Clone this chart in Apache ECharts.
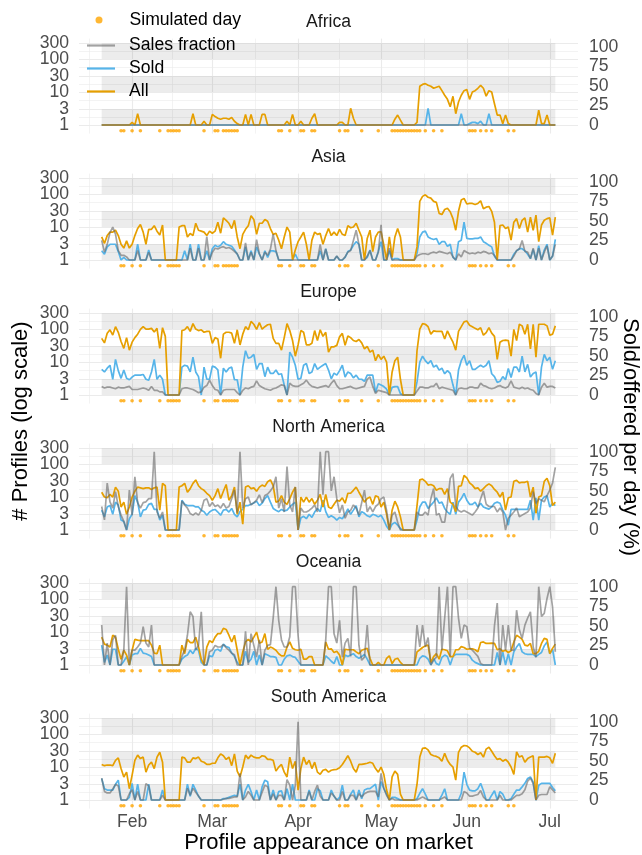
<!DOCTYPE html>
<html><head><meta charset="utf-8">
<script src="https://cdn.jsdelivr.net/npm/echarts@6/dist/echarts.min.js"></script>
<style>html,body{margin:0;padding:0;background:#fff}#c{width:642px;height:855px}</style>
</head><body><div id="c"></div>
<script>
// ---------------- data ----------------
const regions = ['Africa', 'Asia', 'Europe', 'North America', 'Oceania', 'South America'];
const firstDay = 20;            // day of year 2020 (Jan 1 = 0) -> 21 Jan 2020
const monthTicks = [31, 60, 91, 121, 152, 182];
const monthLabels = ['Feb', 'Mar', 'Apr', 'May', 'Jun', 'Jul'];
const minorDayTicks = [15.5, 45.5, 75.5, 106, 136.5, 167];
const leftTicks = [1, 3, 10, 30, 100, 300];
const leftLabelsA = [1, 10, 100];
const leftLabelsB = [3, 30, 300];
const leftMinorTicks = [1.732, 5.477, 17.32, 54.77, 173.2];
const rightTicks = [0, 25, 50, 75, 100];
const bandRanges = [[1, 3], [10, 30], [100, 300]];
const simulatedDays = [7,8,11,14,21,24,25,26,27,28,37,41,42,44,45,46,47,48,49,64,65,68,72,73,76,77,86,88,89,94,100,105,106,107,108,109,110,111,112,113,114,115,117,120,123,133,134,135,137,139,141,147,149];
const simulatedLevel = 0.67;

const africaAll = [1,1,1,1,1,1,1,1,1,1, 1,1.2,1,2.2,1,1,1,1,1,1, 1,1,1,1,1,1,1,1,1,1, 1,1,1,2.2,1,1,1,1.3,1,1,
 2.1,1.8,1.6,1.5,1.6,1.6,1.5,1.7,1.3,1.1, 1,1,2.1,1,2.1,1,1,1,2.1,2.1, 1,1,1,1,1,1,1,1.3,1,2.1, 1,1,1.3,1,1,1,1.6,2.2,1,1,
 1,1,1,1,1,1,1.2,1.2,1,1, 3.2,1.6,1,1,1,1,1,1,1,1, 1,1,1,1,1,1,1.5,2,1.4,1, 1,1,1,1,1.2,15,17,18,16,15,
 13,14,15,11,8,6,3.6,7.4,2.2,5, 8,11,12,6,10,11,13,16,13,7.5, 11,10,4.4,2,2,1.1,2,1.1,1,1, 1,1,1,1,1,1,1,1,2.8,1.1, 1.1,2,1,1,1];
const africaSold = [1,1,1,1,1,1,1,1,1,1, 1,1,1,1,1,1,1,1,1,1, 1,1,1,1,1,1,1,1,1,1, 1,1,1,1,1,1,1,1,1,1,
 1,1,1,1,1,1,1,1,1,1, 1,1,1,1,1,1,1,1,1,1, 1,1,1,1,1,1,1,1,1,1, 1,1,1,1,1,1,1,1,1,1,
 1,1,1,1,1,1,1,1,1,1, 1,1,1,1,1,1,1,1,1,1, 1,1,1,1,1,1,1,1,1,1, 1,1,1,1,1,1,1,1,3.2,1,
 1,1,1,1,1,1,1,1,1,1, 2.2,1,1,1.1,1.2,1.2,1.1,1.3,1,1, 2.2,1,1,1,1,1,1,1,1,1, 1,1,1,1,1,1,1,1,1,1, 1,1,1,1,1];
const africaFraction = [0,0,0,0,0,0,0,0,0,0, 0,0,0,0,0,0,0,0,0,0, 0,0,0,0,0,0,0,0,0,0, 0,0,0,0,0,0,0,0,0,0,
 0,0,0,0,0,0,0,0,0,0, 0,0,0,0,0,0,0,0,0,0, 0,0,0,0,0,0,0,0,0,0, 0,0,0,0,0,0,0,0,0,0,
 0,0,0,0,0,0,0,0,0,0, 0,0,0,0,0,0,0,0,0,0, 0,0,0,0,0,0,0,0,0,0, 0,0,0,0,0,0,0,0,0,0,
 0,0,0,0,0,0,0,0,0,0, 0,0,0,0,0,0,0,0,0,0, 0,0,0,0,0,0,0,0,0,0, 0,0,0,0,0,0,0,0,0,0, 0,0,0,0,0];

const asiaAll = [5,3.2,5.5,7,7,8,5.5,3,2.3,3.8, 2.3,3,5.5,9,12,7,3,8.5,8.5,11, 7.5,5.7,11.5,1,1,1,1,1,10,11, 11,5,6.4,5.5,13,8,7.5,7,5.5,7.5,
 6.5,7.5,14,6.5,19,16,13,9,16,5, 2.2,6,8.5,11,22,17,6,13,13,17, 15,9,6,6.5,4,2.2,5,10,7,1, 2,3.6,5,7,3,1,4,7,6,6.4,
 3,5.5,9,5.5,7,5.5,8.5,6,5.5,11, 9.5,10,13,8,5,1,4.5,8,1.8,5, 7,7.2,2.8,1,5,1.2,5,9,5,1, 1,1,1,1,2.5,60,85,95,80,75,
 60,56,26,24,34,37,29,18,8,30, 66,74,50,52,52,48,52,62,36,40, 42,30,14,1,11,11.5,9,10,4,14, 18,9,16,19,7,20,8,23,3.6,11.5, 16,18,19,5.7,20];
const asiaSold = [1.9,1.5,2.5,3,3,3,1.8,1,1.2,1, 1,1,1,3,1,1,1,2,1,1, 1,1,1,1,1,1,1,1,1,1, 1.9,1,3,1,1,3,1,1,1.9,1,
 2.2,2.8,2.5,2.8,3.6,3,2.8,2.6,2,1.5, 1,1,2.5,1,1.9,1,2.5,1.5,1,1.9, 1.2,1.9,1.9,1.8,1,1,1,1,1,1, 1.5,1,1,1,1,1,1,1,1,1.9,
 1,2.2,1,1,1,1.3,1,1,1.2,1.8, 2,2.8,3.6,3,1,1,1.2,2,1,1, 1.8,3.6,1,1,1.9,1,1.1,1.1,1,1, 1,1,1,1,1.6,5,7,7.5,5,4.5,
 4.2,4.5,3,3.6,3.6,2.6,3,1.2,1,3.6, 4,14,4.5,4.4,4.4,4.5,4.5,5,3.6,3.2, 2.8,2.5,1.3,1,1,1,1,1,1,1.5, 1.9,2.2,2.2,1.9,1.5,1.1,2.1,1,2.7,1, 2,3,1,1.3,4.2];
const asiaFraction = [25,10,20,35,42,33,12,6,6,4, 0,0,0,12,0,0,0,10,0,0, 0,0,0,0,0,0,0,0,0,0, 0,0,15,0,0,15,0,0,30,0,
 10,15,14,16,17,15,16,14,11,8, 0,0,22,0,10,0,26,8,0,10, 6,14,33,12,0,0,0,0,0,0, 0,0,0,0,0,0,0,0,0,20,
 0,14,0,0,0,5,0,0,4,10, 12,25,38,20,0,0,5,12,0,0, 10,45,0,0,15,0,0,0,0,0, 0,0,0,0,5,7,8,8,7,9,
 10,9,11,10,9,8,10,4,0,8, 4,12,10,8,9,8,10,9,11,10, 8,9,6,0,0,0,0,0,0,5, 12,14,25,11,10,2,15,0,15,0, 10,18,0,5,20];

const europeAll = [52,38,75,95,66,118,80,42,26,55, 23,40,55,70,98,118,100,100,105,82, 105,26,110,60,1,1,1,1,1,90, 95,118,85,146,100,90,95,80,85,85,
 37,55,50,13,70,80,80,75,37,95, 33,70,118,95,170,140,98,156,100,118, 135,140,52,37,37,23,55,146,90,45, 15,33,90,80,33,33,37,90,45,95,
 60,80,20,29,29,32,58,74,32,62, 55,45,42,48,38,25,30,20,23,11, 17,12,15,10,1,5,11,14,3,1, 1,1,1,1,22,100,146,140,118,70,
 88,85,85,85,50,88,58,40,23,85, 118,165,175,130,118,105,95,110,65,78, 110,75,60,12,40,45,46,45,15,98, 45,140,125,70,140,25,140,14,140,140, 140,125,65,70,125];
const europeSold = [6,5,6.5,8,3,12,5.5,3.2,5.7,3.2, 2.9,3.5,4,4,4,4.2,3,2.8,5,12, 3,4,3,1,1,1,1,1,1,7, 8,7.5,5,14,5,3.6,1,7,3,3,
 7.5,7,5.8,1,6.5,5,6.5,7,2.9,2.9, 1,7,22,13,14,17,6,9,9,3.6, 7,4.5,4.5,5.7,4.2,4.4,2,1,20,14, 8,3,3.2,8,9,4.5,5,9,6,7,
 8,9,5.7,3.1,4.6,4,5.5,8,3.5,5, 4.5,3.3,4,3,3,2.6,4,4,4,1.2, 2.2,2,1.8,1.5,1,1.7,1.8,1.8,1.1,1, 1,1,1,1,2.5,10,15,11,9,11,
 7,8,5.7,6.5,4.4,5.5,4.5,2,1,5.7, 11,16,8,11,6,6,7,8,7,8, 11,4.4,3.6,2.4,2.6,3.6,2.9,6.4,3.4,7, 7,5,15,5,8.5,3.5,4.5,5,1,7, 17,11,14,6,11];
const europeFraction = [11,9,10,10,9,8,10,9,9,10, 11,7,7,7,8,9,8,6,11,6, 6,4,4,0,0,0,0,0,0,8, 9,9,8,7,5,3,4,10,12,19,
 12,7,6,0,6,7,7,7,7,3, 0,6,9,8,10,11,18,12,10,8, 7,6,8,9,11,13,12,0,15,12, 11,11,13,15,19,14,11,10,9,10,
 11,12,10,15,19,12,8,8,9,10, 11,9,8,9,10,11,20,23,11,2, 6,5,4,3,0,0,0,0,0,0, 0,0,0,0,5,10,10,9,9,11,
 11,15,8,10,9,8,7,6,0,8, 9,8,8,10,10,9,9,15,12,11, 9,8,9,11,12,10,9,11,18,10, 9,8,10,8,9,7,6,2,0,10, 15,10,11,11,9];

const northAmericaAll = [14,10,9.5,12,10,20,15,5,7,3, 5,10,15,20,19,18,19,19,17,19, 20,4,26,22,1,1,1,1,20,22, 26,14,18,26,33,22,18,16,13,11,
 8,11,18,9,15,24,8,11,20,3, 7,1.5,20,22,18,19,15,20,23,21, 29,33,22,7,7.5,11,7,6,9,14, 20,1,10,7,10,7,9,6,8,12,
 5,12,5,4.5,6,8,7.5,9.5,6.5,13, 13,16,20,14,10,7,9,10,6,11, 10,5,7,3,1,4,7.5,5,2.5,1, 1,1,1,1,5.5,33,35,30,23,24,
 22,16,18,18,12,18,7,6,3.6,21, 22,45,38,27,23,18,19,15,18,22, 25,22,17,14,10,14,4,9.5,10,30, 32,27,28,28,30,10,20,3.2,10,11, 30,37,22,5.5,7];
const northAmericaSold = [4,2.5,5,5.5,3,7,5.7,2,1.8,1, 2.2,3,11,7,2.5,4,4.2,6,6.4,4.2, 4.2,2,2.8,1,1,1,1,1,1,8, 6,5.5,5.5,5.5,5,5,4,3.6,2.8,3.5,
 4,4.2,3.5,2.8,4,4.2,3.5,4.5,3,2.5, 3.6,4.3,5.5,5.5,6,6.6,7.5,5.5,6.5,9, 11,7,4.5,4,3.6,4.2,3.8,4,5,6, 7,1,2.3,2.6,2.2,3,2.4,3.5,4.5,3.6,
 8,3.6,2.4,2.7,2.4,2,2.4,2.2,3,4.4, 3,4,5.5,2.5,3.6,3.2,2.7,2.5,3,2.8, 2.5,2.8,2,1.3,1,1.5,1.7,1.4,1.1,1, 1,1,1,1,2,5,7,7,4.5,5.7,
 7,9.5,6.5,7,4.5,3.5,3,7,3,7, 9,13,8,6,6,7,5,6.5,5,4.6, 4.3,5,6.5,7,6.5,4,2.8,1.4,4.2,4.2, 4.2,4.2,4.2,4.2,4.2,8,2,9.5,2,8, 10,11,5,6.5,5.5];
const northAmericaFraction = [30,13,60,36,28,49,30,19,11,0, 51,19,68,35,28,35,36,40,40,100, 23,15,23,0,0,0,0,0,0,37, 32,28,21,19,22,19,25,38,40,30,
 35,30,32,28,34,28,30,40,51,22, 100,28,40,42,32,35,38,45,35,44, 46,50,55,68,28,40,23,81,32,23, 55,0,28,23,23,25,28,32,23,100,
 45,100,100,50,68,40,22,32,15,23, 25,32,28,19,35,51,23,30,23,30, 33,40,42,25,0,19,23,10,0,0, 0,0,0,0,23,19,19,23,19,40,
 53,19,21,10,10,34,66,72,30,25, 23,25,23,21,19,23,28,40,50,33, 30,30,30,23,28,23,0,15,19,23, 28,17,19,21,23,28,49,34,40,38, 36,44,51,60,80];

const oceaniaAll = [7,4.3,4,3.5,8,7,3,1.5,2.8,2, 1,2.8,6,5.7,5.5,5.5,5.5,5.5,4,2.3, 2.2,4,1,1,1,1,1,1,1,4, 2.2,6,4.8,4.8,7,3.6,1.5,1,3.5,5.5,
 4.8,7,9,9,13,12,8,5,8,2.8, 1,2.5,5,6,5,7,10,4.6,5,9, 3,3.5,3.2,2.8,2.2,1.9,1.9,3.5,5,3.2, 2.9,2.8,3,1.5,1.5,1.8,1.8,1,1,1,
 1,5,3,3.1,2.4,2.6,2,1,3,2.9, 2.9,2.9,2.5,2.2,2.8,3,3.2,1.6,1,1, 1.2,1,1,1.6,1.9,1.1,1.5,1.6,1.2,1, 1,1,1,1,2.5,2.9,3.4,3.8,4,1.2,
 1.8,2.2,1.5,3,2.9,2.7,1.8,1.8,2.9,2.9, 3.6,3.4,3,3.1,3.1,2.9,2.5,4.8,5,4.5, 4.5,4.6,4.5,2.9,3.1,2.6,2.8,2.4,2.7,5, 8,7,6,4,3.8,4.5,2.2,2.2,2.6,4.5, 6.4,6,2.2,3.2,4.3];
const oceaniaSold = [4,1.2,2,1,3,3,1,1,1.3,1.8, 1,2,2.2,2.2,3.2,2.3,2.2,2,1.8,1, 1,1,1,1,1,1,1,1,1,1.5, 1.8,2,2.8,2.2,3.2,2.8,1.2,1,1,1.9,
 1.8,2.8,3,2.6,4.3,3.6,3.4,2.3,1.8,1.2, 1,1,2.6,1.2,1.5,2.6,1,2,1,2.2, 2,1.8,1.8,1.7,1,1,1.5,1.9,2,1.8, 1.7,1.3,1,1,1,1,1,1,1,1,
 1,1.9,1.6,1.3,1.1,1.8,1,1,2,1.8, 2,2.2,1.8,1.6,1.8,2.1,1.5,1,1,1, 1,1,1,1,1,1,1,1,1,1, 1,1,1,1,1,1.6,1.9,1.8,1.5,1,
 1.6,1.1,1,1.7,2,1.8,1,1.8,2.1,2.1, 2.1,2.1,2.1,1.9,1.4,1.2,1.1,1,1,1, 1,1,1,2.4,1,2.5,1,2.2,1,2.5, 3.5,4.5,2.5,2.2,2.1,2.1,2.1,1.8,2.1,2.4, 3.8,5,2.2,3,1];
const oceaniaFraction = [51,0,28,0,32,38,0,0,19,100, 0,19,19,23,28,49,28,23,51,0, 0,0,0,0,0,0,0,0,0,11, 19,38,68,62,19,25,68,0,0,17,
 19,25,23,23,26,22,19,15,13,0, 0,0,43,0,40,25,10,32,0,19, 25,26,60,100,57,32,23,23,36,100, 100,38,0,0,0,0,0,0,0,0,
 0,32,100,100,40,28,57,10,28,34, 11,100,100,25,6,10,51,0,0,0, 0,0,0,0,0,0,0,0,0,0, 0,0,0,0,51,23,51,23,35,0,
 6,10,100,19,60,100,11,100,100,60, 34,51,49,22,19,15,11,2,0,0, 0,0,50,79,0,51,19,51,19,19, 70,45,34,51,60,68,23,10,100,62, 66,85,100,74,17];

const southAmericaAll = [12,11,11.5,11.5,11,16,19,9,5,7, 2.2,5.7,16,23,18,20,7,11.5,14,9, 20,28,14,1,1,1,1,1,1,20, 19,14,14,19,18,20,15,14,12,12,
 13,13,19,25,22,17,20,11,25,7.5, 5,10,23,18,23,20,19,19,22,21, 17,17,16,7.5,10,12,7,5,20,9, 15,2,9,20,12,16,9,14,7,6,
 8,8.5,7,8,8.3,8.5,9.5,12,16,22, 15,9,7,12,12,12.5,13,14,13,9, 7,10,6,2,1,5,7.5,6,1.5,1, 1,1,1,1,3,20,37,38,33,24,
 22,21,19,15,26,16,12,10,4,28, 40,45,44,38,30,28,24,27,20,35, 40,30,22,17,18,15,17,14,10,6, 29,20,22,14,18,20,22,1,20,20, 20,21,19,13,26];
const southAmericaSold = [4.5,2.2,2,2,2,3,4,1,1,1, 1.2,3.2,1,3,1,1,1,3,1,1, 1,1,2,1,1,1,1,1,1,1, 1,3,1.3,3,2,1.3,1,1,1,1,
 1,1,1,1,1.1,1.1,1.2,1.3,1.4,1.3, 3,1,2,3,1.8,1,2,1,2.5,4, 3.6,1,2,1,1.8,1.9,1,2.2,1,3, 1,1,1,1,1,2,1,1,2.2,1.9,
 1,1,1,2,1.3,1,1.2,2.8,1,1, 1.5,2,1,2,1.1,2,2.2,2.2,2.6,3, 1,3.6,2.2,1.5,1,1.2,1.2,1.1,1,1, 1,1,1,1,1.1,1.6,2.2,1.5,1,1,
 1,1,1,1.4,2.2,1,1,1,1,1, 1.6,7,3,2,1.9,1.9,2.2,3.2,1.9,1, 1,1.4,1.9,1,1.8,1.5,1,1,1.1,1.5, 2,2,2.5,3.2,4.5,5,3.5,1,2.8,3.2, 3.2,3.2,3.2,2.4,1.9];
const southAmericaFraction = [28,11,9,9,14,20,18,0,0,0, 8,13,0,11,0,0,21,18,0,0, 0,0,6,0,0,0,0,0,0,0, 0,15,6,15,10,5,0,0,0,0,
 0,0,0,0,1,2,2,3,4,4, 34,0,4,11,6,0,0,0,10,19, 17,0,8,0,6,6,0,26,19,0, 19,100,0,0,0,11,0,11,19,5,
 0,0,0,9,5,0,0,11,0,0, 6,6,0,8,4,8,10,11,11,11, 4,34,15,6,0,2,0,0,0,0, 0,0,0,0,0,2,4,2,0,0,
 0,0,0,2,4,0,0,0,0,0, 0,11,9,5,5,6,7,12,4,0, 0,0,0,0,6,0,0,0,0,3, 6,6,8,13,24,28,21,0,6,7, 7,7,17,13,9];

const allSeries = [africaAll, asiaAll, europeAll, northAmericaAll, oceaniaAll, southAmericaAll];
const soldSeries = [africaSold, asiaSold, europeSold, northAmericaSold, oceaniaSold, southAmericaSold];
const fractionSeries = [africaFraction, asiaFraction, europeFraction, northAmericaFraction, oceaniaFraction, southAmericaFraction];

// ---------------- layout / styling ----------------
const FONT = '"Liberation Sans", Arial, Helvetica, sans-serif';
const C_ALL = '#E69F00', C_SOLD = '#56B4E9', C_FRAC = 'rgba(102,102,102,0.6)', C_SIM = '#FFA500';
const GRID_LEFT = 79, GRID_W = 499;
const X_MIN = 11.8, X_MAX = 192.2;
const PX_PER_DEC = 32.97;
const LOG_LO = -0.26, LOG_HI = 2.62;       // log10 extent of left axis
const LOG_100PCT = 2.375;                  // log10 position of 100 % on the secondary axis
const Y_MIN = Math.pow(10, LOG_LO), Y_MAX = Math.pow(10, LOG_HI);
const R_MIN = LOG_LO / LOG_100PCT * 100, R_MAX = LOG_HI / LOG_100PCT * 100;
const FIRST_ONE_Y = 125, PANEL_STEP = 135;
const GRID_H = (LOG_HI - LOG_LO) * PX_PER_DEC;
const TICK_FS = 17.6;
const lastDay = firstDay + africaAll.length - 1;

const labelCommon = { color: '#4d4d4d', fontSize: TICK_FS, fontFamily: FONT, interval: 0, hideOverlap: false,
  showMinLabel: true, showMaxLabel: true };

const grids = [], xAxes = [], yAxes = [], series = [], graphics = [];
regions.forEach((name, k) => {
  const oneY = FIRST_ONE_Y + PANEL_STEP * k;
  const top = oneY - LOG_HI * PX_PER_DEC;
  grids.push({ left: GRID_LEFT, width: GRID_W, top: top, height: GRID_H });
  xAxes.push({
    type: 'value', gridIndex: k, min: X_MIN, max: X_MAX,
    axisLine: { show: false },
    axisTick: { show: false, customValues: monthTicks },
    axisLabel: Object.assign({}, labelCommon, { show: k === regions.length - 1, customValues: monthTicks, margin: 5,
      formatter: v => monthLabels[monthTicks.indexOf(v)] || '' }),
    splitLine: { show: true, lineStyle: { color: '#ebebeb', width: 1.1 } }
  });
  xAxes.push({
    type: 'value', gridIndex: k, min: X_MIN, max: X_MAX,
    axisLine: { show: false },
    axisTick: { show: false, customValues: minorDayTicks },
    axisLabel: { show: false, customValues: minorDayTicks },
    splitLine: { show: true, lineStyle: { color: '#ebebeb', width: 0.6 } }
  });
  // left log axis: major grid lines + labels 1, 10, 100
  yAxes.push({
    type: 'log', logBase: 10, gridIndex: k, min: Y_MIN, max: Y_MAX, position: 'left',
    axisLine: { show: false },
    axisTick: { show: false, customValues: leftTicks },
    axisLabel: Object.assign({}, labelCommon, { customValues: leftLabelsA, margin: 10 }),
    splitLine: { show: true, lineStyle: { color: '#ebebeb', width: 1.1 } }
  });
  // right percentage axis
  yAxes.push({
    type: 'value', gridIndex: k, min: R_MIN, max: R_MAX, position: 'right',
    axisLine: { show: false },
    axisTick: { show: false, customValues: rightTicks },
    axisLabel: Object.assign({}, labelCommon, { customValues: rightTicks, margin: 11 }),
    splitLine: { show: false }
  });
  // left log axis: minor grid lines + labels 3, 30, 300
  yAxes.push({
    type: 'log', logBase: 10, gridIndex: k, min: Y_MIN, max: Y_MAX, position: 'left',
    axisLine: { show: false },
    axisTick: { show: false, customValues: leftMinorTicks },
    axisLabel: Object.assign({}, labelCommon, { customValues: leftLabelsB, margin: 10 }),
    splitLine: { show: true, lineStyle: { color: '#ebebeb', width: 0.6 } }
  });

  const xi = 2 * k, yl = 3 * k, yr = 3 * k + 1;
  series.push({
    type: 'line', name: 'bands', xAxisIndex: xi, yAxisIndex: yl, data: [], silent: true, z: 1,
    markArea: { silent: true, itemStyle: { color: 'rgba(0,0,0,0.075)' },
      data: bandRanges.map(r => [{ xAxis: firstDay, yAxis: r[0] }, { xAxis: lastDay, yAxis: r[1] }]) }
  });
  const toPts = arr => arr.map((v, i) => [firstDay + i, v]);
  series.push({ type: 'line', name: 'Sold', xAxisIndex: xi, yAxisIndex: yl, data: toPts(soldSeries[k]),
    showSymbol: false, symbol: 'none', lineStyle: { color: C_SOLD, width: 1.7 }, itemStyle: { color: C_SOLD }, z: 3 });
  series.push({ type: 'line', name: 'All', xAxisIndex: xi, yAxisIndex: yl, data: toPts(allSeries[k]),
    showSymbol: false, symbol: 'none', lineStyle: { color: C_ALL, width: 1.7 }, itemStyle: { color: C_ALL }, z: 3 });
  series.push({ type: 'line', name: 'Sales fraction', xAxisIndex: xi, yAxisIndex: yr, data: toPts(fractionSeries[k]),
    showSymbol: false, symbol: 'none', lineStyle: { color: C_FRAC, width: 1.7 }, itemStyle: { color: C_FRAC }, z: 4 });
  series.push({ type: 'scatter', name: 'Simulated day', xAxisIndex: xi, yAxisIndex: yl,
    data: simulatedDays.map(d => [firstDay + d, simulatedLevel]), symbolSize: 3.6,
    itemStyle: { color: C_SIM }, z: 5, silent: true });

  graphics.push({ type: 'text', x: GRID_LEFT + GRID_W / 2, y: 22.5 + PANEL_STEP * k,
    style: { text: name, fontSize: TICK_FS, fontFamily: FONT, fill: '#1a1a1a', align: 'center', verticalAlign: 'middle' } });
});

graphics.push({ type: 'text', x: 21, y: 421, rotation: Math.PI / 2,
  style: { text: '# Profiles (log scale)', fontSize: 22, fontFamily: FONT, fill: '#000', align: 'center', verticalAlign: 'middle' } });
graphics.push({ type: 'text', x: 630, y: 437, rotation: -Math.PI / 2,
  style: { text: 'Sold/offered per day (%)', fontSize: 22, fontFamily: FONT, fill: '#000', align: 'center', verticalAlign: 'middle' } });
graphics.push({ type: 'text', x: GRID_LEFT + GRID_W / 2, y: 843,
  style: { text: 'Profile appearance on market', fontSize: 22, fontFamily: FONT, fill: '#000', align: 'center', verticalAlign: 'middle' } });

const legendText = { fontSize: TICK_FS, fontFamily: FONT, color: '#000', lineHeight: 20, padding: [0, 0, 0, 9] };
const option = {
  animation: false,
  backgroundColor: '#fff',
  grid: grids, xAxis: xAxes, yAxis: yAxes, series: series, graphic: graphics,
  legend: [
    { left: 95.5, top: 10, padding: 0, orient: 'vertical', selectedMode: false, itemWidth: 28, itemHeight: 7,
      textStyle: Object.assign({}, legendText, { padding: [0, 0, 0, 11.5] }),
      data: [{ name: 'Simulated day', icon: 'circle', itemStyle: { color: C_SIM } }] },
    { left: 87, top: 35.5, padding: 0, orient: 'vertical', selectedMode: false, itemWidth: 28, itemHeight: 2.2, itemGap: 3,
      textStyle: legendText,
      data: [{ name: 'Sales fraction', icon: 'rect', itemStyle: { color: C_FRAC } },
             { name: 'Sold', icon: 'rect', itemStyle: { color: C_SOLD } },
             { name: 'All', icon: 'rect', itemStyle: { color: C_ALL } }] }
  ]
};
const chart = echarts.init(document.getElementById('c'), null, { renderer: 'canvas' });
chart.setOption(option);
</script></body></html>
